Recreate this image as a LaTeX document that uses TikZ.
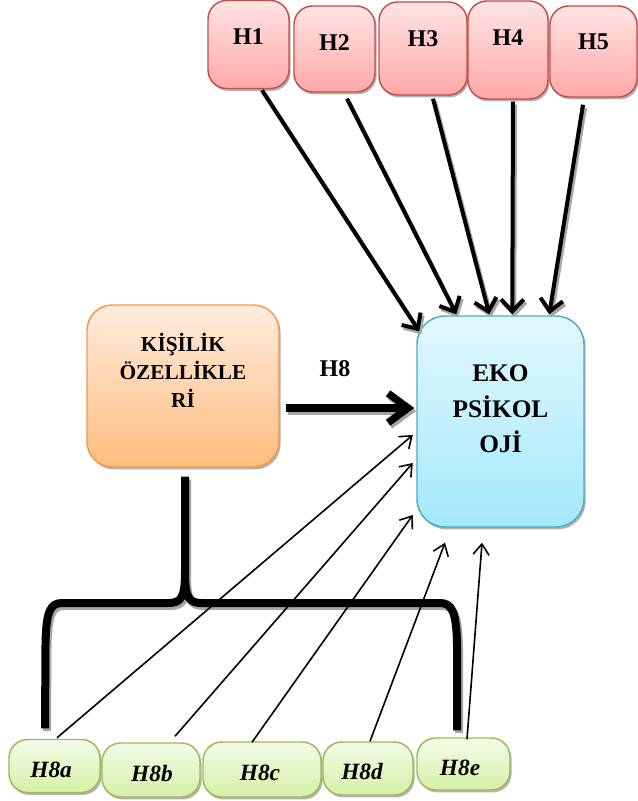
\documentclass[tikz,border=0pt]{standalone}
\usepackage{fontspec}
\setmainfont{Liberation Serif}
\usetikzlibrary{arrows.meta,shadows,calc}
\definecolor{hbd}{RGB}{192,80,77}
\definecolor{htop}{RGB}{255,228,228}
\definecolor{hbot}{RGB}{255,168,168}
\definecolor{kbd}{RGB}{247,150,70}
\definecolor{ktop}{RGB}{255,236,222}
\definecolor{kbot}{RGB}{255,188,126}
\definecolor{ebd}{RGB}{75,172,198}
\definecolor{etop}{RGB}{226,248,255}
\definecolor{ebot}{RGB}{164,232,250}
\definecolor{gbd}{RGB}{155,187,89}
\definecolor{gtop}{RGB}{244,251,232}
\definecolor{gbot}{RGB}{214,240,166}
\begin{document}
\begin{tikzpicture}[x=0.75pt,y=-0.75pt,
  box/.style={draw, line width=1.1pt, inner sep=0pt,
    drop shadow={shadow xshift=1.2pt,shadow yshift=-1.8pt,fill=black!50,opacity=0.6}},
  hbox/.style={box, draw=hbd, top color=htop, bottom color=hbot, rounded corners=14pt},
  kbox/.style={box, draw=kbd, top color=ktop, bottom color=kbot, rounded corners=19pt},
  ebox/.style={box, draw=ebd, top color=etop, bottom color=ebot, rounded corners=21pt},
  gbox/.style={box, draw=gbd, top color=gtop, bottom color=gbot, rounded corners=14pt},
  htxt/.style={font=\fontsize{18}{20}\selectfont\bfseries, inner sep=0pt},
  ktxt/.style={font=\fontsize{16}{21}\selectfont\bfseries, inner sep=0pt, align=center},
  etxt/.style={font=\fontsize{19}{26.5}\selectfont\bfseries, inner sep=0pt, align=center},
  gtxt/.style={font=\fontsize{17.5}{20}\selectfont\bfseries\itshape, inner sep=0pt},
  toparr/.style={line width=3pt, -{Straight Barb[length=9pt,width=17pt]}},
  bigarr/.style={line width=5.5pt, -{Straight Barb[length=15pt,width=22pt]}},
  thinarr/.style={line width=1.2pt, -{Straight Barb[length=8pt,width=12pt]}},
  shadowline/.style={draw=black!35},
  brace/.style={line width=6pt, line join=round}
]
\useasboundingbox (0,0) rectangle (638,801);

% top hypothesis boxes
\node[hbox, minimum width=60.75pt, minimum height=66pt,
  label={[htxt,yshift=5.6pt]center:H1}] (h1) at (248.5,44.5) {};
\node[hbox, minimum width=60.75pt, minimum height=64.5pt,
  label={[htxt,yshift=5.2pt]center:H2}] (h2) at (334.5,49) {};
\node[hbox, minimum width=66pt, minimum height=69.75pt,
  label={[htxt,yshift=7.5pt]center:H3}] (h3) at (423,48.5) {};
\node[hbox, minimum width=60pt, minimum height=73.5pt,
  label={[htxt,yshift=9pt]center:H4}] (h4) at (508,50) {};
\node[hbox, minimum width=65.25pt, minimum height=68.25pt,
  label={[htxt,yshift=7pt]center:H5}] (h5) at (593.5,51.5) {};

% main boxes
\node[kbox, minimum width=144pt, minimum height=121.5pt,
  label={[ktxt,yshift=12pt]center:{KİŞİLİK\\ÖZELLİKLE\\Rİ}}] (kis) at (183,386) {};
\node[ebox, minimum width=125.25pt, minimum height=158.25pt,
  label={[etxt,yshift=9.4pt]center:{EKO\\PSİKOL\\OJİ}}] (eko) at (500.5,421.5) {};

% bottom boxes
\node[gbox, minimum width=68.25pt, minimum height=39.75pt,
  label={[gtxt,yshift=-2.8pt,xshift=-2.5pt]center:H8a}] (h8a) at (54.5,766) {};
\node[gbox, minimum width=73.5pt, minimum height=40.5pt,
  label={[gtxt,yshift=-2.4pt,xshift=0.7pt]center:H8b}] (h8b) at (151,770) {};
\node[gbox, minimum width=88.5pt, minimum height=41.25pt,
  label={[gtxt,yshift=-2.6pt,xshift=-1.5pt]center:H8c}] (h8c) at (262,769.5) {};
\node[gbox, minimum width=67.5pt, minimum height=39.75pt,
  label={[gtxt,yshift=-2.6pt,xshift=-4.5pt]center:H8d}] (h8d) at (368,768.5) {};
\node[gbox, minimum width=69.75pt, minimum height=39pt,
  label={[gtxt,yshift=-3pt,xshift=-2.6pt]center:H8e}] (h8e) at (463.5,764) {};

\node[htxt] (h8lbl) at (335,369) {H8};

% connector end points
\coordinate (s1) at ($(h1.south)+(13.5,1)$);
\coordinate (t1) at ($(eko.north west)+(3,16)$);
\coordinate (s2) at ($(h2.south)+(12.5,6)$);
\coordinate (t2) at ($(eko.north west)+(40,-1)$);
\coordinate (s3) at ($(h3.south)+(10,3)$);
\coordinate (t3) at ($(eko.north west)+(73,-1)$);
\coordinate (s4) at ($(h4.south)+(5,2)$);
\coordinate (t4) at ($(eko.north west)+(96,-1)$);
\coordinate (s5) at ($(h5.south)+(-10.5,7)$);
\coordinate (t5) at ($(eko.north west)+(133,-1)$);
\coordinate (s8) at ($(kis.east)+(6,22)$);
\coordinate (t8) at ($(eko.west)+(-2,-13.5)$);
\coordinate (stem) at ($(kis.south)+(2,9)$);
\coordinate (legl) at ($(h8a.north)+(-9.5,-10.5)$);
\coordinate (legr) at ($(h8e.north)+(-6.5,-7)$);

% shadows of the thick connectors
\begin{scope}[transform canvas={xshift=1.5pt,yshift=-2.2pt}, shadowline]
\draw[toparr] (s1) -- (t1);
\draw[toparr] (s2) -- (t2);
\draw[toparr] (s3) -- (t3);
\draw[toparr] (s4) -- (t4);
\draw[toparr] (s5) -- (t5);
\draw[bigarr] (s8) -- (t8);
\draw[brace] (stem) -- (185,572) .. controls (185,598) and (181,603) .. (168,603)
  -- (62,603) .. controls (50,603) and (46,612) .. (45.5,645) -- (legl);
\draw[brace] (185,572) .. controls (185,598) and (189,603) .. (202,603)
  -- (440,603) .. controls (452,603) and (456.5,612) .. (457,645) -- (legr);
\end{scope}

% top arrows
\draw[toparr] (s1) -- (t1);
\draw[toparr] (s2) -- (t2);
\draw[toparr] (s3) -- (t3);
\draw[toparr] (s4) -- (t4);
\draw[toparr] (s5) -- (t5);

% H8 arrow
\draw[bigarr] (s8) -- (t8);

% brace
\draw[brace] (stem) -- (185,572) .. controls (185,598) and (181,603) .. (168,603)
  -- (62,603) .. controls (50,603) and (46,612) .. (45.5,645) -- (legl);
\draw[brace] (185,572) .. controls (185,598) and (189,603) .. (202,603)
  -- (440,603) .. controls (452,603) and (456.5,612) .. (457,645) -- (legr);

% thin arrows
\draw[thinarr] ($(h8a.north)+(2.5,-1)$) -- ($(eko.west)+(-3.5,13.5)$);
\draw[thinarr] ($(h8b.north)+(24,-6)$) -- ($(eko.west)+(-3.5,41.5)$);
\draw[thinarr] ($(h8c.north)+(-10,1)$) -- ($(eko.west)+(-3.5,93.5)$);
\draw[thinarr] ($(h8d.north)+(2,0)$) -- ($(eko.south)+(-55.5,15)$);
\draw[thinarr] ($(h8e.north)+(3.5,2)$) -- ($(eko.south)+(-18.5,15)$);
\end{tikzpicture}
\end{document}
